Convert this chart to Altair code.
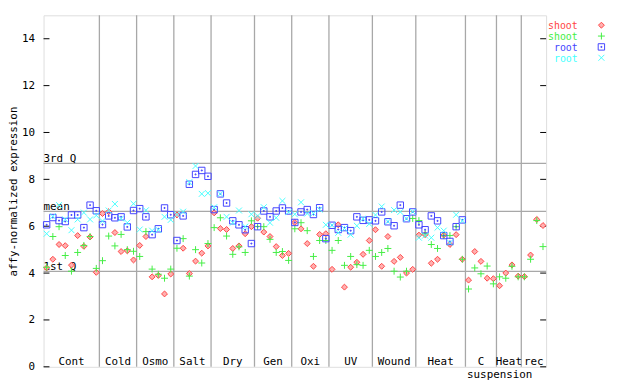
import altair as alt
import pandas as pd

# ---- data ----
groups = ["Cont", "Cold", "Osmo", "Salt", "Dry", "Gen", "Oxi", "UV", "Wound", "Heat", "C", "Heat", "rec"]
group_sizes = [9, 6, 6, 6, 7, 6, 6, 7, 7, 8, 5, 4, 4]

shoot_red = [4.22, 4.59, 5.22, 5.17, 4.34, 5.60, 5.14, 5.54, 4.03,
             6.54, 6.62, 5.73, 4.92, 4.95, 4.56,
             5.18, 5.56, 3.84, 3.90, 3.11, 3.96,
             6.48, 5.06, 3.98, 4.51, 4.85, 5.16,
             6.57, 5.90, 5.86, 5.05, 5.16, 5.68, 5.98,
             6.34, 5.75, 5.56, 5.13, 4.75, 4.84,
             6.16, 5.89, 5.26, 4.29, 5.65, 5.68,
             4.16, 6.06, 3.40, 4.25, 4.46, 4.80, 5.39,
             5.85, 4.29, 5.56, 4.50, 4.67, 4.00, 4.16,
             5.62, 5.64, 4.42, 4.59, 5.62, 5.22, 5.64, 4.59,
             3.70, 4.92, 4.50, 3.78, 3.76,
             3.46, 4.00, 4.35, 3.87,
             3.85, 4.77, 6.29, 6.03]

shoot_green = [4.25, 5.56, 5.98, 4.75, 4.08, 4.88, 5.18, 5.56, 4.20,
               4.53, 5.58, 5.16, 5.65, 5.00, 4.93,
               4.71, 5.77, 4.17, 3.95, 3.78, 4.17,
               5.06, 5.47, 3.87, 5.00, 4.43, 5.26,
               5.94, 6.36, 5.58, 4.80, 5.12, 4.88, 6.23,
               5.99, 5.98, 5.44, 4.88, 4.92, 4.54,
               5.89, 6.15, 5.81, 4.71, 5.39, 5.39,
               4.97, 5.39, 4.33, 4.71, 4.36, 4.33, 4.97,
               4.71, 4.88, 5.05, 4.08, 3.83, 4.08, 6.33,
               6.24, 5.68, 5.22, 5.05, 5.60, 5.60, 5.98, 4.59,
               3.32, 4.22, 3.97, 4.30, 3.54,
               3.84, 3.78, 4.29, 3.84,
               3.84, 4.59, 6.24, 5.13]

root_blue = [6.06, 6.37, 6.24, 6.20, 6.48, 6.48, 5.94, 6.90, 6.66,
             6.07, 6.44, 6.36, 6.40, 5.97, 6.67,
             6.75, 6.40, 5.64, 5.89, 6.78, 6.49,
             5.39, 6.44, 7.79, 8.21, 8.38, 8.13,
             6.71, 7.38, 6.99, 6.23, 6.06, 5.85, 5.26,
             5.98, 6.65, 6.40, 6.65, 6.78, 6.65,
             6.16, 6.61, 6.71, 6.50, 6.79, 5.47,
             6.04, 5.86, 5.94, 5.81, 6.40, 6.25, 6.27,
             6.23, 6.61, 6.19, 6.02, 6.90, 6.32, 6.61,
             6.06, 5.85, 6.44, 6.23, 5.60, 5.35, 5.98, 6.27]

root_cyan = [5.68, 6.42, 6.90, 6.29, 5.83, 6.29, 6.58, 6.29, 6.46,
             6.22, 6.67, 6.95, 6.33, 6.15, 6.96,
             5.86, 6.68, 5.81, 5.85, 6.40, 6.27,
             6.50, 6.62, 7.88, 8.57, 7.38, 7.41,
             6.81, 7.38, 6.40, 6.15, 6.67, 5.98, 6.51,
             6.44, 6.81, 6.15, 6.36, 7.08, 6.60,
             6.51, 7.02, 6.54, 6.55, 6.71, 6.06,
             6.04, 5.72, 5.90, 5.64, 6.02, 6.32, 6.10,
             6.48, 6.84, 6.20, 6.69, 6.61, 6.32, 6.62,
             5.51, 5.60, 5.51, 5.94, 5.81, 5.30, 6.49, 6.23]

quartile_names = ["3rd Q", "mean", "1st Q"]
quartile_values = [8.68, 6.63, 4.07]
y_ticks = [0, 2, 4, 6, 8, 10, 12, 14]

series_labels = ["shoot", "shoot", "root", "root"]
series_colors = ["#ff4444", "#44ee44", "#4444ff", "#44ffff"]

# ---- derived tables ----
W, H = 509, 356
FONT = "DejaVu Sans Mono"
n_total = sum(group_sizes)

bounds = []
centers = []
start = 0
for s in group_sizes:
    centers.append(start + (s - 1) / 2)
    start += s
    bounds.append(start - 0.5)
sep_df = pd.DataFrame({"x": bounds[:-1]})
grp_df = pd.DataFrame({"label": groups, "x": centers})
sub_df = pd.DataFrame({"label": ["suspension"], "x": [centers[10]]})
q_df = pd.DataFrame({"name": quartile_names, "v": quartile_values})
tick_df = pd.DataFrame({"v": y_ticks})

xs = alt.Scale(domain=[-0.5, n_total - 0.5], nice=False, zero=False)
ys = alt.Scale(domain=[0, 15], nice=False, zero=True)


def sdf(vals):
    return pd.DataFrame({"i": list(range(len(vals))), "v": vals})


X = alt.X("x:Q", scale=xs, axis=None)

seps = alt.Chart(sep_df).mark_rule(color="#a8a8a8", strokeWidth=1.3).encode(x=X)

qlines = alt.Chart(q_df).mark_rule(color="#a8a8a8", strokeWidth=1.3).encode(
    y=alt.Y("v:Q", scale=ys,
            axis=alt.Axis(values=y_ticks, ticks=False, domain=False, grid=False,
                          labelFont=FONT, labelFontSize=11, labelColor="black",
                          labelPadding=9, title="affy-normalized expression",
                          titleFont=FONT, titleFontSize=11, titleFontWeight="normal",
                          titleColor="black", titleX=-30, titleY=178,
                          titleBaseline="middle", titleAngle=270)),
)

qtext = alt.Chart(q_df).mark_text(align="left", baseline="alphabetic", font=FONT,
                                  fontSize=11, color="black", dy=-1).encode(
    x=alt.value(0), y=alt.Y("v:Q", scale=ys), text="name:N")

gtext = alt.Chart(grp_df).mark_text(align="center", baseline="alphabetic", font=FONT,
                                    fontSize=11, color="black").encode(
    x=X, y=alt.value(H - 2), text="label:N")

stext = alt.Chart(sub_df).mark_text(align="center", baseline="alphabetic", font=FONT,
                                    fontSize=11, color="black", dx=19).encode(
    x=X, y=alt.value(H + 11), text="label:N")

ticks_l = alt.Chart(tick_df).mark_rule(color="black").encode(
    y=alt.Y("v:Q", scale=ys), x=alt.value(0), x2=alt.value(6))
ticks_r = alt.Chart(tick_df).mark_rule(color="black").encode(
    y=alt.Y("v:Q", scale=ys), x=alt.value(W - 6), x2=alt.value(W))

DIAMOND = "M0,-1L1,0L0,1L-1,0Z"
PLUS = "M-1,0L1,0M0,-1L0,1"
SQUARE = "M-1,-1L1,-1L1,1L-1,1Z M-0.15,-0.15L0.15,-0.15L0.15,0.15L-0.15,0.15Z"
CROSS = "M-1,-1L1,1M-1,1L1,-1"
shapes = [DIAMOND, PLUS, SQUARE, CROSS]
sizes = [36, 49, 42, 36]
fills = ["#ffb0b0", None, None, None]


def mark_kw(k):
    kw = dict(shape=shapes[k], size=sizes[k], stroke=series_colors[k], strokeWidth=1,
              opacity=1)
    if fills[k]:
        kw.update(filled=True, fill=fills[k])
    else:
        kw.update(filled=False)
    return kw


def pts(vals, k):
    return alt.Chart(sdf(vals)).mark_point(**mark_kw(k)).encode(
        x=alt.X("i:Q", scale=xs, axis=None), y=alt.Y("v:Q", scale=ys))


points = [pts(v, k) for k, v in enumerate([shoot_red, shoot_green, root_blue, root_cyan])]

legend_layers = []
for k, lab in enumerate(series_labels):
    ly = 11 + 11 * k
    ldf = pd.DataFrame({"label": [lab]})
    legend_layers.append(
        alt.Chart(ldf).mark_text(align="right", baseline="middle", font=FONT, fontSize=10,
                                 color=series_colors[k]).encode(
            x=alt.value(W + 32), y=alt.value(ly), text="label:N"))
    legend_layers.append(
        alt.Chart(ldf).mark_point(**mark_kw(k)).encode(x=alt.value(W + 56), y=alt.value(ly - 1)))

chart = alt.layer(seps, qlines, ticks_l, ticks_r, qtext, gtext, stext, *points, *legend_layers).properties(
    width=W, height=H,
    autosize=alt.AutoSizeParams(type="none"),
    padding={"left": 36, "top": 5, "right": 87, "bottom": 15},
).configure_view(stroke="black", strokeWidth=1.3).configure(background="white")

chart.save("out.html", embed_options={"renderer": "svg", "actions": False})
